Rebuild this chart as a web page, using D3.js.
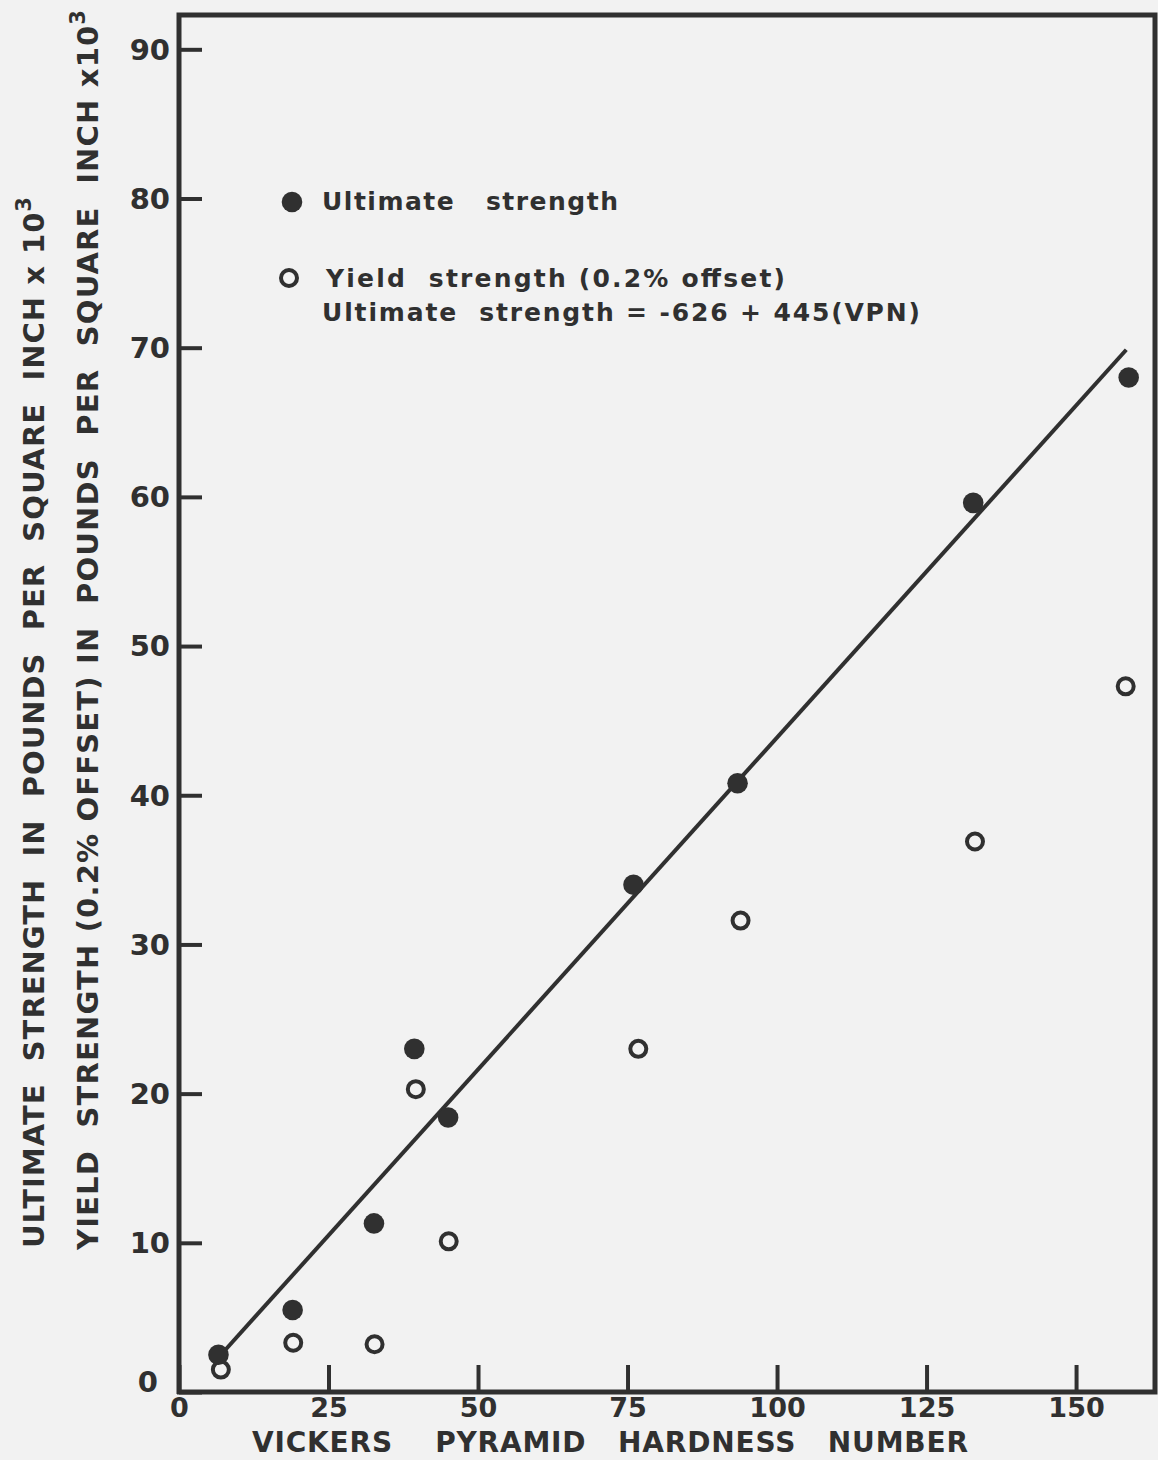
<!DOCTYPE html>
<html>
<head>
<meta charset="utf-8">
<script src="https://cdn.jsdelivr.net/npm/d3@7"></script>
<style>
    body { margin: 0; background: #f2f2f2; }
    svg { display: block; }
    text { font-family: "DejaVu Sans", sans-serif; font-weight: bold; fill: #303030; }
</style>
</head>
<body>
<div id="chart"></div>
<script>
const width = 1158, height = 1460
const ink = "#303030"

// values (VPN, ksi)
const vpnUltimate = [6.6, 19.0, 32.6, 39.35, 45.0, 76.0, 93.4, 132.8, 158.8]
const ultimate = [2.5, 5.5, 11.3, 23.0, 18.4, 34.0, 40.8, 59.6, 68.0]
const vpnYield = [7.0, 19.1, 32.7, 39.6, 45.1, 76.8, 93.9, 133.1, 158.3]
const yieldStrength = [1.5, 3.3, 3.2, 20.3, 10.1, 23.0, 31.6, 36.9, 47.3]

// Ultimate strength = -626 + 445(VPN) psi
const fitIntercept = -0.626, fitSlope = 0.445
const fitRange = [6.6, 158.4]

const xTicks = [0, 25, 50, 75, 100, 125, 150]
const yTicks = [0, 10, 20, 30, 40, 50, 60, 70, 80, 90]

const xScale = d3.scaleLinear().domain([0, 163.2]).range([179, 1155])
const yScale = d3.scaleLinear().domain([0, 92.3]).range([1392, 15])

const svg = d3.select("#chart").append("svg")
    .attr("width", width)
    .attr("height", height)

svg.append("rect").attr("width", width).attr("height", height).attr("fill", "#f2f2f2")

// y axis, ticks pointing in
const yAxis = svg.append("g")
    .attr("transform", "translate(" + xScale(0) + ",0)")
    .call(d3.axisLeft(yScale).tickValues(yTicks).tickSizeInner(-23).tickSizeOuter(0).tickPadding(9))
yAxis.select(".domain").remove()
yAxis.selectAll(".tick line").attr("stroke", ink).attr("stroke-width", 4)
yAxis.selectAll(".tick text")
    .style("font-size", "29px")
    .attr("fill", ink)
    .attr("dy", d => d === 0 ? "-0.02em" : "0.34em")
    .attr("x", d => d === 0 ? -21 : -9)

// x axis, ticks pointing up
const xAxis = svg.append("g")
    .attr("transform", "translate(0," + yScale(0) + ")")
    .call(d3.axisBottom(xScale).tickValues(xTicks).tickSizeInner(-27).tickSizeOuter(0).tickPadding(6))
xAxis.select(".domain").remove()
xAxis.selectAll(".tick line").attr("stroke", ink).attr("stroke-width", 4)
xAxis.selectAll(".tick text").style("font-size", "27px").attr("fill", ink)

// frame
const x0 = xScale.range()[0], x1 = xScale.range()[1]
const y0 = yScale.range()[0], y1 = yScale.range()[1]
svg.append("path")
    .attr("d", "M" + x0 + "," + (y0 + 2) + "V" + y1 + "H" + x1 + "V" + y0 + "H" + (x0 - 2))
    .attr("fill", "none")
    .attr("stroke", ink)
    .attr("stroke-width", 5)
    .attr("stroke-linejoin", "miter")

// regression line
const line = d3.line()
    .x(d => xScale(d))
    .y(d => yScale(fitIntercept + fitSlope * d))
svg.append("path")
    .datum(fitRange)
    .attr("d", line)
    .attr("fill", "none")
    .attr("stroke", ink)
    .attr("stroke-width", 4)

// yield strength points (open)
svg.append("g").selectAll("circle")
    .data(vpnYield.map((v, i) => [v, yieldStrength[i]]))
    .join("circle")
    .attr("cx", d => xScale(d[0]))
    .attr("cy", d => yScale(d[1]))
    .attr("r", 8)
    .attr("fill", "none")
    .attr("stroke", ink)
    .attr("stroke-width", 4)

// ultimate strength points (filled)
svg.append("g").selectAll("circle")
    .data(vpnUltimate.map((v, i) => [v, ultimate[i]]))
    .join("circle")
    .attr("cx", d => xScale(d[0]))
    .attr("cy", d => yScale(d[1]))
    .attr("r", 10.3)
    .attr("fill", ink)

// legend
svg.append("circle").attr("cx", 292).attr("cy", 202).attr("r", 10.3).attr("fill", ink)
svg.append("circle").attr("cx", 289).attr("cy", 278).attr("r", 8)
    .attr("fill", "none").attr("stroke", ink).attr("stroke-width", 4)

function legendText(x, y, len, s) {
    svg.append("text")
        .attr("x", x).attr("y", y)
        .attr("xml:space", "preserve")
        .attr("textLength", len)
        .attr("lengthAdjust", "spacing")
        .style("font-size", "25px")
        .text(s)
}
legendText(322, 210, 296, "Ultimate   strength")
legendText(326, 287, 459, "Yield  strength (0.2% offset)")
legendText(322, 321, 598, "Ultimate  strength = -626 + 445(VPN)")

// x axis title
svg.append("text")
    .attr("x", 252).attr("y", 1452)
    .attr("xml:space", "preserve")
    .attr("textLength", 716)
    .attr("lengthAdjust", "spacing")
    .style("font-size", "28px")
    .text("VICKERS    PYRAMID   HARDNESS   NUMBER")

// y axis titles (two lines)
function yTitle(bx, by, len, s) {
    const t = svg.append("text")
        .attr("transform", "translate(" + bx + "," + by + ") rotate(-90)")
        .attr("xml:space", "preserve")
        .attr("textLength", len)
        .attr("lengthAdjust", "spacing")
        .style("font-size", "29px")
    t.append("tspan").text(s)
    t.append("tspan").attr("dy", -13).style("font-size", "21px").text("3")
}
yTitle(44, 1248, 1051, "ULTIMATE  STRENGTH  IN  POUNDS  PER  SQUARE  INCH x 10")
yTitle(98, 1250, 1240, "YIELD  STRENGTH (0.2% OFFSET) IN  POUNDS  PER  SQUARE  INCH x10")
</script>
</body>
</html>
